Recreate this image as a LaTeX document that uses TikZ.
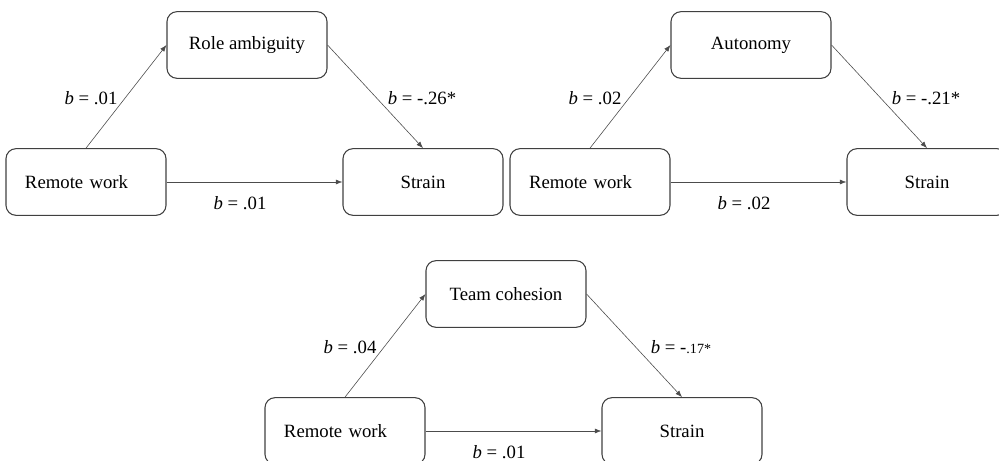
\documentclass[tikz,border=0pt]{standalone}
\usepackage{fontspec}
\setmainfont{Liberation Serif}
\usetikzlibrary{arrows.meta}

\tikzset{
    varbox/.style={draw=black!75, line width=0.9pt, rounded corners=0.3cm,
        minimum width=4.8cm, minimum height=2cm, font=\fontsize{16}{19}\selectfont},
    rwbox/.style={varbox, text width=3.66cm, align=left},
    link/.style={draw=black!70, line width=0.5pt, -{Latex[length=0.2cm,width=0.15cm]}},
    coef/.style={font=\fontsize{16}{19}\selectfont}
}

\begin{document}
\begin{tikzpicture}[x=0.03cm,y=-0.03cm]
        \clip (0,0) rectangle (999,461);

        %%%%%%%% Three mediation models %%%%%%%%
        \foreach \i/\ox/\oy/\med/\ca/\cb/\cc in {
                1/0/0/Role ambiguity/.01/-.26*/.01,
                2/504/0/Autonomy/.02/-.21*/.02,
                3/259/249/Team cohesion/.04/{-{\fontsize{12}{14}\selectfont.17*}}/.01}
        {
            % boxes
            \node[rwbox] (rw\i) at (86+\ox,182+\oy) {Remote work};
            \node[varbox] (med\i) at (247+\ox,45+\oy) {\med};
            \node[varbox] (str\i) at (423+\ox,182+\oy) {Strain};

            % paths
            \draw[link] (rw\i.north) -- (med\i.west);
            \draw[link] (med\i.east) -- (str\i.north);
            \draw[link] (rw\i.east) -- (str\i.west);

            % coefficients
            \node[coef] (ca\i) at (91+\ox,98+\oy) {\textit{b} = \ca};
            \node[coef] (cb\i) at (422+\ox,98+\oy) {\textit{b} = \cb};
            \node[coef] (cc\i) at (240+\ox,203+\oy) {\textit{b} = \cc};
        }

    \end{tikzpicture}
\end{document}
